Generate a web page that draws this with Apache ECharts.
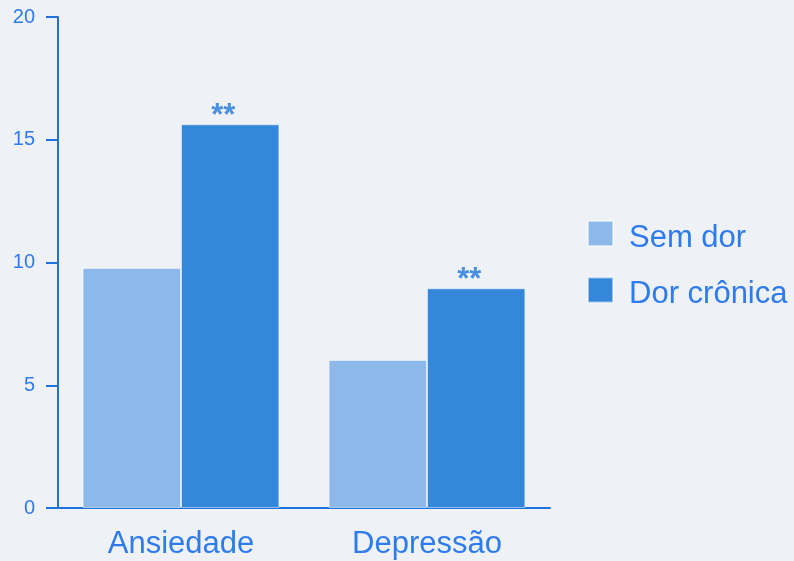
<!DOCTYPE html>
<html>
<head>
<meta charset="utf-8">
<script src="https://cdn.jsdelivr.net/npm/echarts@6/dist/echarts.min.js"></script>
<style>
html,body{margin:0;padding:0;background:#eef2f6;}
#c{width:794px;height:561px;}
</style>
</head>
<body>
<div id="c"></div>
<script>
const categories = ['Ansiedade', 'Depressão'];
const semDor = [9.78, 6.03];
const dorCronica = [15.63, 8.95];
const significance = ['**', '**'];
const yTicks = [0, 5, 10, 15, 20];

const chart = echarts.init(document.getElementById('c'));
const textColor = '#2e7bee';
const axisColor = '#1f72dc';
const FONT = '"Liberation Sans", Arial, sans-serif';
chart.setOption({
  backgroundColor: '#eef2f6',
  animation: false,
  grid: { left: 58, right: 244, top: 17, bottom: 53, containLabel: false },
  legend: {
    orient: 'vertical',
    left: 587,
    top: 220,
    padding: 0,
    itemWidth: 25,
    itemHeight: 25,
    itemGap: 23,
    icon: 'rect',
    formatter: name => '{a|' + name + '}',
    textStyle: {
      color: textColor, fontSize: 31, fontFamily: FONT, padding: [0, 0, 0, 11],
      rich: { a: { color: textColor, fontSize: 31, fontFamily: FONT, lineHeight: 40, verticalAlign: 'bottom' } }
    },
    data: ['Sem dor', 'Dor crônica']
  },
  xAxis: {
    type: 'category',
    data: categories,
    axisLine: { lineStyle: { color: axisColor, width: 2 } },
    axisTick: { show: false },
    axisLabel: { color: textColor, fontSize: 31, fontFamily: FONT, margin: 21 }
  },
  yAxis: {
    type: 'value',
    min: yTicks[0],
    max: yTicks[yTicks.length - 1],
    interval: 5,
    splitLine: { show: false },
    axisLine: { show: true, lineStyle: { color: axisColor, width: 2 } },
    axisTick: { show: true, length: 12, lineStyle: { color: axisColor, width: 2 } },
    axisLabel: { color: textColor, fontSize: 20, fontFamily: FONT, margin: 23 }
  },
  series: [
    {
      name: 'Sem dor',
      type: 'bar',
      data: semDor,
      barGap: '0%',
      barCategoryGap: '20%',
      itemStyle: { color: '#8cb9ea', borderColor: 'rgba(255,255,255,0.5)', borderWidth: 1 }
    },
    {
      name: 'Dor crônica',
      type: 'bar',
      data: dorCronica,
      barGap: '0%',
      barCategoryGap: '20%',
      itemStyle: { color: '#3587dc', borderColor: 'rgba(255,255,255,0.5)', borderWidth: 1 },
      label: {
        show: true,
        position: 'top',
        distance: -8,
        offset: [-7, 0],
        formatter: p => significance[p.dataIndex],
        color: '#4a8fe0',
        fontSize: 31,
        fontWeight: 'bold',
        fontFamily: FONT
      }
    }
  ]
});
</script>
</body>
</html>
